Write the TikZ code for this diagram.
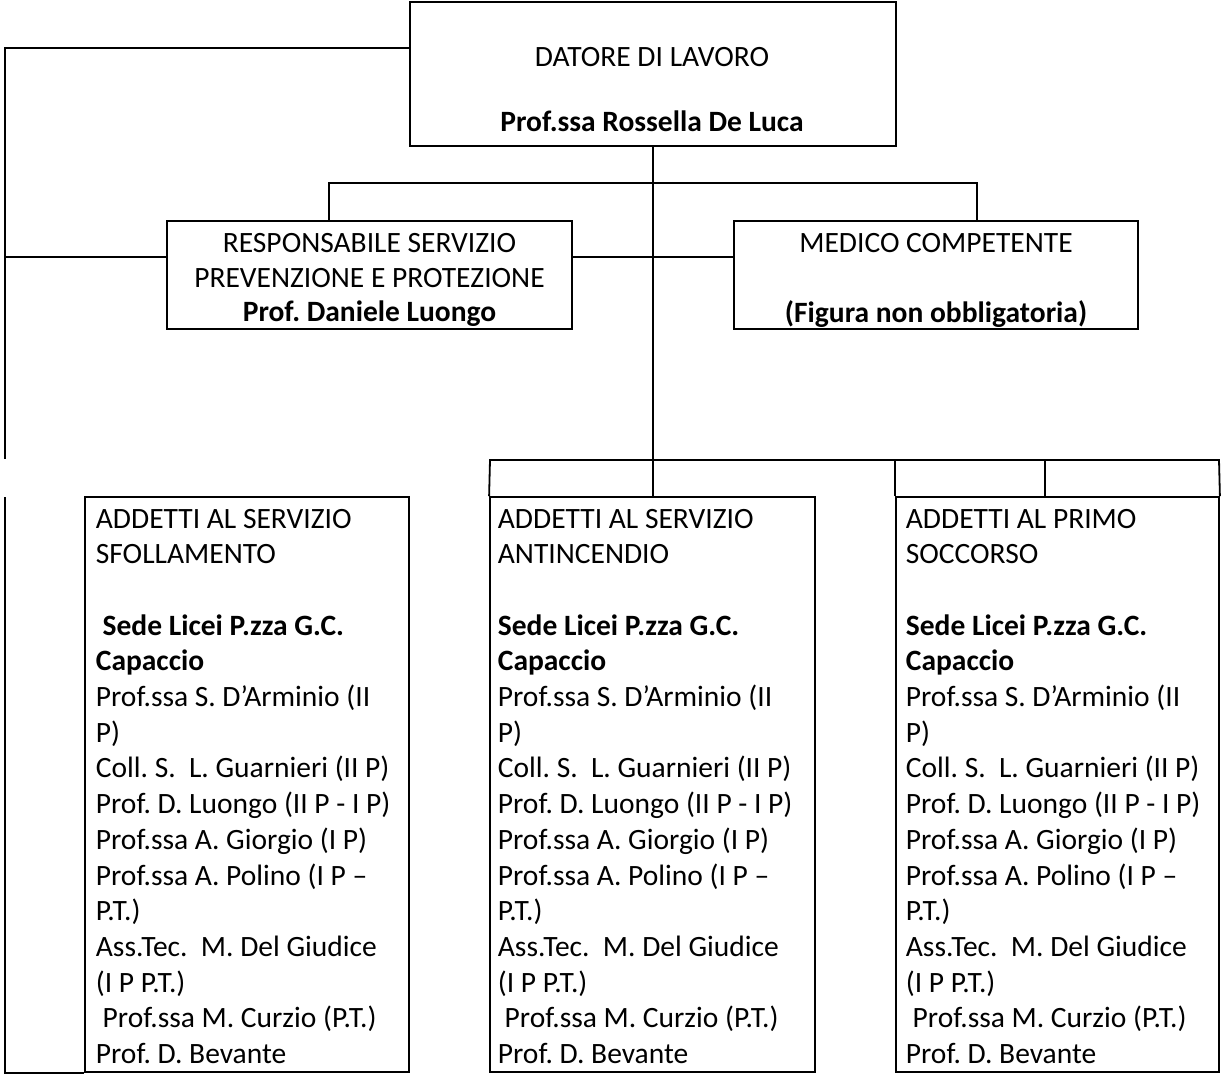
\documentclass[tikz,border=0pt]{standalone}
\usepackage{fontspec}
\setmainfont{Carlito}
\frenchspacing
\newcommand\addettilist[3]{\parbox[t]{330pt}{\fontsize{29.5}{35.7}\selectfont\raggedright\frenchspacing
ADDETTI AL #1\\
#2\\
\mbox{}\\
\textbf{#3Sede Licei P.zza G.C.}\\
\textbf{Capaccio}\\
Prof.ssa S. D’Arminio (II\\
P)\\
Coll. S.\ \ L. Guarnieri (II P)\\
Prof. D. Luongo (II P - I P)\\
Prof.ssa A. Giorgio (I P)\\
Prof.ssa A. Polino (I P –\\
P.T.)\\
Ass.Tec.\ \ M. Del Giudice\\
(I P P.T.)\\
\hspace*{0.23em}Prof.ssa M. Curzio (P.T.)\\
Prof. D. Bevante}}
\begin{document}
\begin{tikzpicture}[x=1pt,y=-1pt,line width=1.8pt,
  box/.style={draw, rectangle, inner sep=0pt, line width=1.8pt},
  txt/.style={inner sep=0pt, font=\fontsize{29.5}{35.7}\selectfont}]
\useasboundingbox (0,0) rectangle (1223,1079);
% boxes
\node[box, minimum width=486pt, minimum height=144pt] (dat) at (653,74) {};
\node[box, minimum width=405pt, minimum height=108pt] (rspp) at (369.5,275) {};
\node[box, minimum width=404pt, minimum height=108pt] (med) at (936,275) {};
\node[box, minimum width=324pt, minimum height=575pt] (sfoll) at (247,784.5) {};
\node[box, minimum width=325pt, minimum height=575pt] (antinc) at (652.5,784.5) {};
\node[box, minimum width=323pt, minimum height=575pt] (primo) at (1057.5,784.5) {};
% junction coordinates
\coordinate (tl) at (5,48);
\coordinate (lb1) at (5,459);
\coordinate (lj) at (5,257);
\coordinate (rv) at (329,183);
\coordinate (mv) at (977,183);
\coordinate (rowL) at (490,460);
\coordinate (rowR) at (1219,460);
\coordinate (rowM) at (1045,460);
\coordinate (lb2) at (5,497);
% connectors
\draw (dat.west |- tl) -- (tl) -- (lb1);
\draw (lj) -- (rspp.west |- lj);
\draw (rspp.east |- lj) -- (med.west |- lj);
\draw (dat.south) -- (dat.south |- antinc.north);
\draw (rspp.north -| rv) -- (rv) -- (mv) -- (med.north -| mv);
\draw (antinc.north west) -- (rowL) -- (rowR) -- (primo.north east);
\draw (primo.north west) -- (primo.north west |- rowL);
\draw (rowM) -- (rowM |- primo.north);
\draw (lb2) -- (lb2 |- sfoll.south) -- (sfoll.south west);
% texts
\node[txt, anchor=base] (datA) at (652,66.5) {DATORE DI LAVORO};
\node[txt, anchor=base] (datB) at (652,131.5) {\textbf{Prof.ssa Rossella De Luca}};
\node[txt, anchor=base] (rsppA) at (369.5,252.5) {RESPONSABILE SERVIZIO};
\node[txt, anchor=base] (rsppB) at (369.5,287) {PREVENZIONE E PROTEZIONE};
\node[txt, anchor=base] (rsppC) at (369.5,321.5) {\textbf{Prof. Daniele Luongo}};
\node[txt, anchor=base] (medA) at (936,252.5) {MEDICO COMPETENTE};
\node[txt, anchor=base] (medB) at (936,322.5) {\textbf{(Figura non obbligatoria)}};
\node[txt, anchor=base west] (sfollT) at (95,528) {\addettilist{SERVIZIO}{SFOLLAMENTO}{\hspace*{0.23em}}};
\node[txt, anchor=base west] (antincT) at (497,528) {\addettilist{SERVIZIO}{ANTINCENDIO}{}};
\node[txt, anchor=base west] (primoT) at (905,528) {\addettilist{PRIMO}{SOCCORSO}{}};
\end{tikzpicture}
\end{document}
